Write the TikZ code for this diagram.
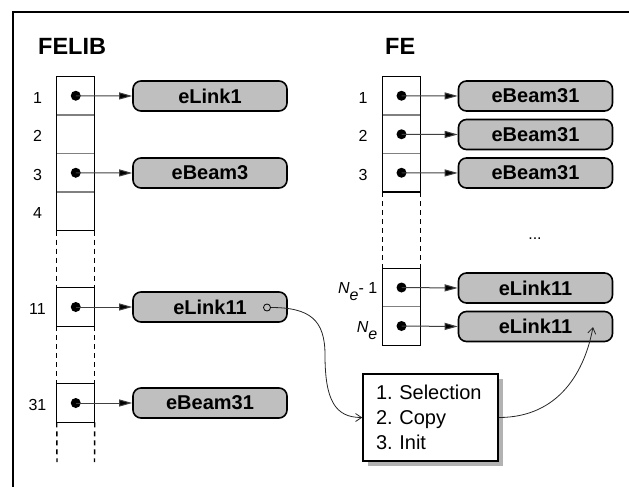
\documentclass[tikz,border=0pt]{standalone}
\usepackage{fontspec}
\setmainfont{Liberation Sans}
\usetikzlibrary{arrows.meta,shadows}
\frenchspacing

\begin{document}
\begin{tikzpicture}[x=1pt,y=-1pt,
  frame/.style={line width=2pt},
  cell/.style={draw=black!50,line width=1.3pt,minimum width=38pt,minimum height=38.5pt,inner sep=0pt,outer sep=0pt},
  outline/.style={draw=black,line width=1.3pt},
  dashline/.style={draw=black,line width=1.4pt,dash pattern=on 5pt off 4pt},
  dot/.style={circle,fill=black,minimum size=10pt,inner sep=0pt},
  entity/.style={draw=black,line width=1.6pt,rounded corners=8pt,fill=black!25,
    minimum width=154pt,minimum height=30pt,inner sep=0pt,
    font=\bfseries\fontsize{20}{24}\selectfont},
  ptr/.style={draw=black!75,line width=1pt,-{Triangle[length=13pt,width=7pt,fill=black]}},
  rowlabel/.style={anchor=base,inner sep=0pt,font=\fontsize{16}{19}\selectfont},
  title/.style={anchor=base west,inner sep=0pt,font=\bfseries\fontsize{23.5}{28}\selectfont},
  ring/.style={circle,draw=black,line width=0.8pt,minimum size=7pt,inner sep=0pt},
  procbox/.style={draw=black,line width=1.5pt,fill=white,
    drop shadow={shadow xshift=5pt,shadow yshift=-5pt,fill=black!30,opacity=1},
    minimum width=135pt,minimum height=87pt,inner xsep=13pt,inner ysep=0pt,
    text width=109pt,align=left,font=\fontsize{20}{25}\selectfont},
  flow/.style={draw=black!85,line width=0.8pt,-{Straight Barb[length=6pt,width=8pt]}}
]
\useasboundingbox (0,0) rectangle (629,487);

% page frame (left and top edges)
\draw[frame] (13,487) -- (13,12) -- (629,12);

% ---------- library array ----------
\node[title] (felib) at (38,55) {FELIB};

\node[cell] (L1) at (75.75,95.75) {};
\node[cell] (L2) at (75.75,134.25) {};
\node[cell] (L3) at (75.75,172.75) {};
\node[cell] (L4) at (75.75,211.25) {};
\node[cell] (L11) at (75.75,307) {};
\node[cell] (L31) at (75.75,403) {};
\draw[outline] (L1.north west) rectangle (L4.south east);
\draw[outline] (L11.north west) rectangle (L11.south east);
\draw[outline] (L31.north west) rectangle (L31.south east);

\coordinate (Lend W) at (57,462);
\coordinate (Lend E) at (94.5,462);
\draw[dashline] (L4.south west) -- (L11.north west);
\draw[dashline] (L4.south east) -- (L11.north east);
\draw[dashline] (L11.south west) -- (L31.north west);
\draw[dashline] (L11.south east) -- (L31.north east);
\draw[dashline] (L31.south west) -- (Lend W);
\draw[dashline] (L31.south east) -- (Lend E);

\node[rowlabel] (l1) at (37.5,103) {1};
\node[rowlabel] (l2) at (37.5,141.5) {2};
\node[rowlabel] (l3) at (37.5,180) {3};
\node[rowlabel] (l4) at (37.5,218.5) {4};
\node[rowlabel] (l11) at (37.5,314) {11};
\node[rowlabel] (l31) at (37.5,410) {31};

\node[dot] (dL1) at (L1) {};
\node[dot] (dL3) at (L3) {};
\node[dot] (dL11) at (L11) {};
\node[dot] (dL31) at (L31) {};

\node[entity] (eL1) at (210,96) {eLink1};
\node[entity] (eB3) at (210,173) {eBeam3};
\node[entity] (eL11) at (210,307) {eLink11};
\node[entity] (eB31) at (210,403) {eBeam31};

\draw[ptr] (dL1.center) -- (eL1.west);
\draw[ptr] (dL3.center) -- (eB3.west);
\draw[ptr] (dL11.center) -- (eL11.west);
\draw[ptr] (dL31.center) -- (eB31.west);

\node[ring] (src) at (267,307.5) {};

% ---------- element array ----------
\node[title] (fe) at (385,55) {FE};

\node[cell] (R1) at (401.5,95.75) {};
\node[cell] (R2) at (401.5,134.25) {};
\node[cell] (R3) at (401.5,172.75) {};
\node[cell] (Rm) at (401.5,287.5) {};
\node[cell] (Rn) at (401.5,326) {};
\draw[outline] (R1.north west) rectangle (R3.south east);
\draw[outline] (Rm.north west) rectangle (Rn.south east);
\draw[dashline] (R3.south west) -- (Rm.north west);
\draw[dashline] (R3.south east) -- (Rm.north east);

\node[rowlabel] (r1) at (363,103) {1};
\node[rowlabel] (r2) at (363,141.5) {2};
\node[rowlabel] (r3) at (363,180) {3};
\node[rowlabel,anchor=base east] (rm) at (377.5,293)
  {\itshape N\raisebox{-7pt}{e}\upshape- 1};
\node[rowlabel,anchor=base east] (rn) at (377.5,332)
  {\itshape N\raisebox{-7pt}{e}};
\node[rowlabel] (dots) at (535,239) {...};

\node[dot] (dR1) at (R1) {};
\node[dot] (dR2) at (R2) {};
\node[dot] (dR3) at (R3) {};
\node[dot] (dRm) at (Rm) {};
\node[dot] (dRn) at (Rn) {};

\node[entity] (f1) at (535.5,96) {eBeam31};
\node[entity] (f2) at (535.5,134.5) {eBeam31};
\node[entity] (f3) at (535.5,173) {eBeam31};
\node[entity] (fm) at (535.5,288) {eLink11};
\node[entity] (fn) at (535.5,326.5) {eLink11};

\draw[ptr] (dR1.center) -- (f1.west);
\draw[ptr] (dR2.center) -- (f2.west);
\draw[ptr] (dR3.center) -- (f3.west);
\draw[ptr] (dRm.center) -- (fm.west);
\draw[ptr] (dRn.center) -- (fn.west);

% ---------- copy procedure ----------
\node[procbox] (proc) at (430.5,417.5) {1. Selection\\2. Copy\\3. Init};

\coordinate (hook) at (593,327);
\draw[flow] (src.east) .. controls (310,307.5) and (325,320) .. (325,355)
  .. controls (325,400) and (335,417.5) .. (proc.west);
\draw[flow] (proc.east) .. controls (560,417.5) and (585,370) .. (hook);
\end{tikzpicture}
\end{document}
